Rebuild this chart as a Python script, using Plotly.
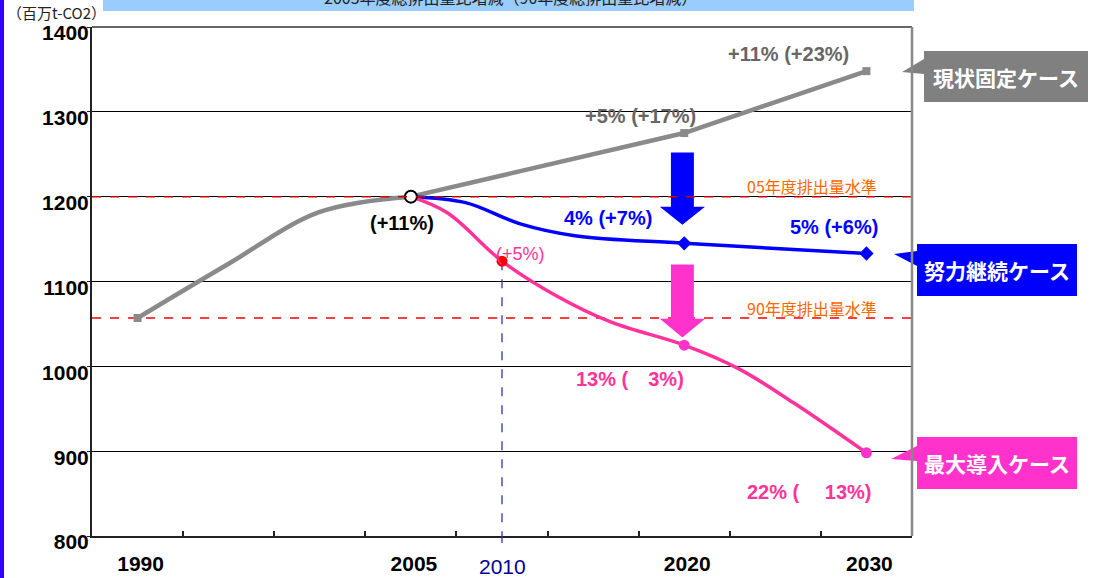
import plotly.graph_objects as go

# ---- data (Mt-CO2) ----
hist_years = [1990, 1995, 2000, 2005]
hist_vals = [1057, 1121, 1182, 1200]

fixed_years = [2005, 2020, 2030]
fixed_vals = [1200, 1275, 1348]

effort_years = [2005, 2008, 2011, 2014, 2020, 2030]
effort_vals = [1200, 1193, 1168, 1154, 1145, 1133]

max_years = [2005, 2007, 2010, 2013, 2016, 2020, 2023, 2026, 2030]
max_vals = [1200, 1181, 1124, 1083, 1052, 1025, 997, 957, 898]

level_05 = 1200
level_90 = 1057

x_tick_years = [1990, 2005, 2020, 2030]
y_ticks = [800, 900, 1000, 1100, 1200, 1300, 1400]

GRAY = "#8a8a8a"
BLUE = "#0000ff"
PINK = "#ff3399"
MAGENTA = "#ff33cc"
ORANGE = "#ff6600"
NUM_FONT = "Liberation Sans, Arial, sans-serif"
JP_FONT = "Noto Sans CJK JP, sans-serif"

# plot area in pixels (for things drawn outside the axes)
L, R, T, B = 92, 912, 27, 536


def px(xp):
    return (xp - L) / (R - L)


def py(yp):
    return (B - yp) / (B - T)


fig = go.Figure()

# reference levels
fig.add_shape(type="line", xref="paper", x0=0, x1=1, y0=level_05, y1=level_05,
              line=dict(color="#cc0000", width=1.5, dash="dash"), layer="above")
fig.add_shape(type="line", xref="paper", x0=0, x1=1, y0=level_90, y1=level_90,
              line=dict(color="#ff0000", width=1.5, dash="dash"), layer="between")

# 2010 vertical marker line
fig.add_shape(type="line", x0=2010, x1=2010, y0=max_vals[max_years.index(2010)], y1=800,
              line=dict(color="#3333aa", width=1.3, dash="dash"), layer="between")
fig.add_shape(type="line", x0=2010, x1=2010, yref="paper", y0=0, y1=py(543),
              line=dict(color="#3333aa", width=1.3, dash="dash"))


def block_arrow(xc, top, neck, tip, color):
    sw, hw = 0.63, 1.24
    path = (f"M {xc - sw},{top} L {xc + sw},{top} L {xc + sw},{neck} L {xc + hw},{neck} "
            f"L {xc},{tip} L {xc - hw},{neck} L {xc - sw},{neck} Z")
    fig.add_shape(type="path", path=path, fillcolor=color, line=dict(width=0), layer="between")


block_arrow(2019.9, 1252, 1188, 1167, BLUE)
block_arrow(2019.9, 1120, 1056, 1034, MAGENTA)

# lines
fig.add_trace(go.Scatter(x=hist_years, y=hist_vals, mode="lines",
                         line=dict(color=GRAY, width=4.5, shape="spline", smoothing=1)))
fig.add_trace(go.Scatter(x=fixed_years, y=fixed_vals, mode="lines",
                         line=dict(color=GRAY, width=4.5)))
fig.add_trace(go.Scatter(x=effort_years, y=effort_vals, mode="lines",
                         line=dict(color=BLUE, width=3.5, shape="spline", smoothing=1)))
fig.add_trace(go.Scatter(x=max_years, y=max_vals, mode="lines",
                         line=dict(color=PINK, width=3.5, shape="spline", smoothing=1)))

# markers
fig.add_trace(go.Scatter(x=[hist_years[0]] + fixed_years[1:], y=[hist_vals[0]] + fixed_vals[1:],
                         mode="markers", marker=dict(symbol="square", size=8, color=GRAY)))
fig.add_trace(go.Scatter(x=effort_years[-2:], y=effort_vals[-2:], mode="markers",
                         marker=dict(symbol="diamond", size=11, color=BLUE)))
i20 = max_years.index(2020)
fig.add_trace(go.Scatter(x=[max_years[i20], max_years[-1]], y=[max_vals[i20], max_vals[-1]],
                         mode="markers", marker=dict(symbol="circle", size=11, color=MAGENTA)))
fig.add_trace(go.Scatter(x=[2010], y=[max_vals[max_years.index(2010)]], mode="markers",
                         marker=dict(symbol="circle", size=11, color="#ff0000")))
fig.add_trace(go.Scatter(x=[2005], y=[level_05], mode="markers",
                         marker=dict(symbol="circle", size=12, color="white",
                                     line=dict(color="black", width=2))))

# value labels
labels = [
    ("+11% (+23%)", 2025.7, 1368, "#666666", 20, "bold"),
    ("+5% (+17%)", 2017.6, 1295, "#666666", 20, "bold"),
    ("(+11%)", 2004.5, 1169, "black", 20, "bold"),
    ("4% (+7%)", 2015.8, 1175, BLUE, 20, "bold"),
    ("5% (+6%)", 2028.2, 1164, BLUE, 20, "bold"),
    ("(+5%)", 2011.0, 1133, PINK, 18, "normal"),
    ("13% (\u30003%)", 2017.0, 985, PINK, 20, "bold"),
    ("22% (\u3000 13%)", 2026.9, 852, PINK, 20, "bold"),
]
for text, x, y, color, size, weight in labels:
    fig.add_annotation(x=x, y=y, text=text, showarrow=False, xanchor="center", yanchor="middle",
                       font=dict(family=NUM_FONT, size=size, color=color, weight=weight))

for text, y in [("05年度排出量水準", 1213), ("90年度排出量水準", 1069)]:
    fig.add_annotation(x=2027.0, y=y, text=text, showarrow=False, xanchor="center", yanchor="middle",
                       font=dict(family=JP_FONT, size=16, color=ORANGE))

# case callouts
callouts = [
    ("現状固定ケース", "#808080", (924, 51, 1088, 102), [(924, 59), (902, 72), (924, 74)]),
    ("努力継続ケース", BLUE, (917, 244, 1077, 296), [(917, 251), (894, 254), (917, 266)]),
    ("最大導入ケース", MAGENTA, (917, 437, 1077, 489), [(917, 446), (891, 459), (917, 461)]),
]
for text, color, (x0, y0, x1, y1), tri in callouts:
    fig.add_shape(type="rect", xref="paper", yref="paper", x0=px(x0), x1=px(x1), y0=py(y0), y1=py(y1),
                  fillcolor=color, line=dict(width=0))
    path = "M " + " L ".join(f"{px(a)},{py(b)}" for a, b in tri) + " Z"
    fig.add_shape(type="path", xref="paper", yref="paper", path=path, fillcolor=color, line=dict(width=0))
    fig.add_annotation(xref="paper", yref="paper", x=px((x0 + x1) / 2), y=py((y0 + y1) / 2),
                       xanchor="center", yanchor="middle", text=text, showarrow=False,
                       font=dict(family=JP_FONT, size=21, color="white", weight="bold"))

# frame (top/right in gray)
fig.add_shape(type="line", xref="paper", yref="paper", x0=0, x1=1, y0=1, y1=1,
              line=dict(color="#666666", width=2))
fig.add_shape(type="line", xref="paper", yref="paper", x0=1, x1=1, y0=0, y1=1,
              line=dict(color="#888888", width=2.5))

# header banner, left bar, unit
fig.add_shape(type="rect", xref="paper", yref="paper", x0=px(103), x1=px(914), y0=py(11), y1=py(-5),
              fillcolor="#99ccff", line=dict(width=0))
fig.add_annotation(xref="paper", yref="paper", x=px(510), y=py(-3), xanchor="center", yanchor="middle",
                   text="2005年度総排出量比増減（90年度総排出量比増減）", showarrow=False,
                   font=dict(family=JP_FONT, size=16, color="#222222"))
fig.add_shape(type="rect", xref="paper", yref="paper", x0=px(-2), x1=px(4), y0=py(590), y1=py(-10),
              fillcolor="#3300ff", line=dict(width=0))
fig.add_annotation(xref="paper", yref="paper", x=px(56), y=py(13), xanchor="center", yanchor="middle",
                   text="（百万t-CO2）", showarrow=False,
                   font=dict(family=JP_FONT, size=15, color="#222222"))

# 2010 label
fig.add_annotation(x=2010, yref="paper", y=py(566), xanchor="center", yanchor="middle",
                   text="2010", showarrow=False,
                   font=dict(family=NUM_FONT, size=21, color="#000099"))

fig.update_layout(
    width=1095, height=578,
    margin=dict(l=L, r=1095 - R, t=T, b=578 - B),
    paper_bgcolor="white", plot_bgcolor="white",
    showlegend=False,
    font=dict(family=NUM_FONT),
    xaxis=dict(range=[1987.5, 2032.5], tickvals=x_tick_years,
               ticktext=[str(v) for v in x_tick_years],
               tickfont=dict(size=21, color="black", weight="bold"),
               ticks="", ticklabelstandoff=8, ticklabelshift=3, automargin=False,
               showgrid=False, zeroline=False,
               showline=True, linecolor="#222222", linewidth=2,
               minor=dict(tickvals=[1992.5 + 5 * i for i in range(9)], ticks="inside",
                          ticklen=5, tickwidth=1.5, tickcolor="#222222", showgrid=False)),
    yaxis=dict(range=[800, 1400], tickvals=y_ticks,
               tickfont=dict(size=21, color="black", weight="bold"),
               ticks="outside", ticklen=3, tickcolor="#222222",
               ticklabelshift=6, ticklabelstandoff=-6, automargin=False,
               showgrid=True, gridcolor="black", gridwidth=1, zeroline=False,
               showline=True, linecolor="#222222", linewidth=2),
)

fig.write_html("out.html", config={"displayModeBar": False},
               post_script="document.body.style.margin='0';")
